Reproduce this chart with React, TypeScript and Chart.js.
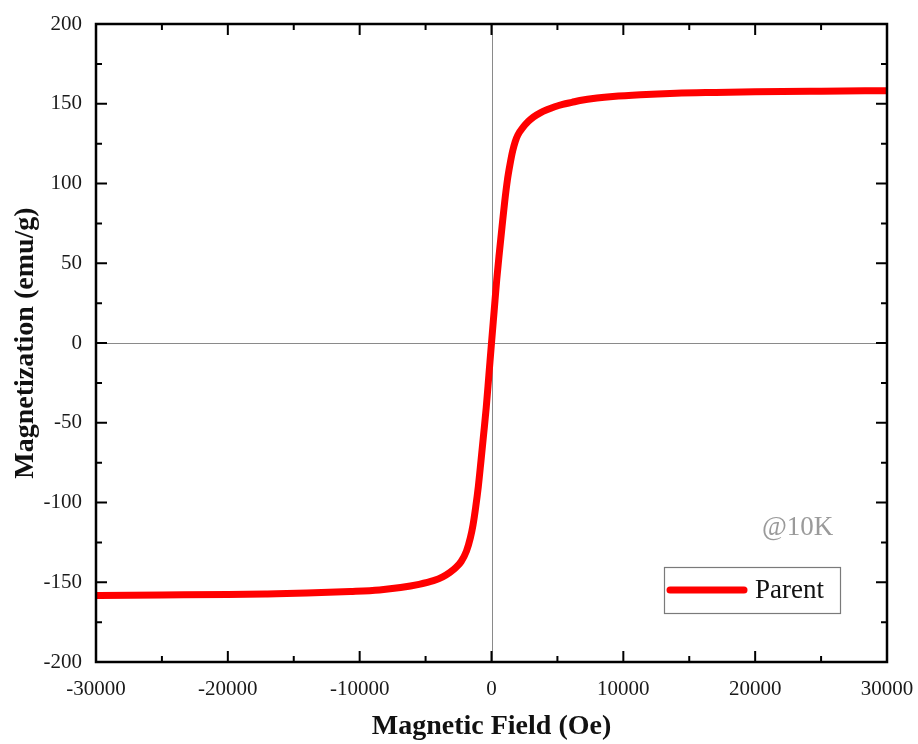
import React, { useEffect, useRef } from "react";
import { Chart, registerables } from "chart.js";

Chart.register(...registerables);

// ---- data ----
const fieldOe = [
  -30000, -25000, -20000, -17000, -14000, -10700, -8500, -6900, -5500, -4400,
  -3700, -3150, -2700, -2300, -1900, -1600, -1400, -1200, -1000, -800, -600,
  -400, -200, 0, 200, 400, 600, 800, 1000, 1200, 1400, 1600, 1800, 2000, 2400,
  2800, 3200, 3700, 4200, 4800, 5400, 6100, 6700, 8000, 9200, 11300, 14000,
  17000, 20000, 25000, 30000,
];
const magnetization = [
  -158.3, -158.0, -157.7, -157.3, -156.8, -155.8, -154.8, -153.3, -151.3, -149.0,
  -146.6, -143.8, -140.8, -137.0, -130.5, -122.0, -114.0, -103.0, -90.0, -74.0, -57.5,
  -40.5, -20.3, 0, 20.0, 40.0, 57.0, 73.0, 88.5, 101.8, 111.8, 120.2, 126.3, 130.4,
  135.3, 139.0, 141.8, 144.3, 146.2, 148.1, 149.6, 150.9, 152.0, 153.6, 154.6, 155.7,
  156.6, 157.1, 157.5, 157.9, 158.2,
];
const seriesLabel = "Parent";
const noteText = "@10K";
const xTitle = "Magnetic Field (Oe)";
const yTitle = "Magnetization (emu/g)";
const xMin = -30000;
const xMax = 30000;
const xMajorStep = 10000;
const xMinorStep = 5000;
const yMin = -200;
const yMax = 200;
const yMajorStep = 50;
const yMinorStep = 25;

const SERIF = "'Liberation Serif', 'Times New Roman', serif";
const LINE_RED = "#ff0000";

const framePlugin = {
  id: "originFrame",
  beforeDatasetsDraw(chart: any) {
    const { ctx, chartArea: a, scales } = chart;
    const x0 = scales.x.getPixelForValue(0);
    const y0 = scales.y.getPixelForValue(0);
    ctx.save();
    ctx.strokeStyle = "#8a8a8a";
    ctx.lineWidth = 1;
    ctx.beginPath();
    ctx.moveTo(Math.round(x0) + 0.5, a.top);
    ctx.lineTo(Math.round(x0) + 0.5, a.bottom);
    ctx.moveTo(a.left, Math.round(y0) + 0.5);
    ctx.lineTo(a.right, Math.round(y0) + 0.5);
    ctx.stroke();
    ctx.restore();
  },
  afterDraw(chart: any) {
    const { ctx, chartArea: a, scales } = chart;
    ctx.save();
    // frame
    ctx.strokeStyle = "#000";
    ctx.lineWidth = 2.5;
    ctx.strokeRect(a.left, a.top, a.right - a.left, a.bottom - a.top);
    // ticks (inward, all four sides)
    ctx.lineWidth = 2;
    ctx.beginPath();
    for (let v = xMin; v <= xMax; v += xMinorStep) {
      const px = scales.x.getPixelForValue(v);
      const major = v % xMajorStep === 0;
      const len = major ? 11 : 6;
      ctx.moveTo(px, a.bottom);
      ctx.lineTo(px, a.bottom - len);
      ctx.moveTo(px, a.top);
      ctx.lineTo(px, a.top + len);
    }
    for (let v = yMin; v <= yMax; v += yMinorStep) {
      const py = scales.y.getPixelForValue(v);
      const major = v % yMajorStep === 0;
      const len = major ? 11 : 6;
      ctx.moveTo(a.left, py);
      ctx.lineTo(a.left + len, py);
      ctx.moveTo(a.right, py);
      ctx.lineTo(a.right - len, py);
    }
    ctx.stroke();

    // note
    ctx.fillStyle = "#9a9a9a";
    ctx.font = `27px ${SERIF}`;
    ctx.textAlign = "left";
    ctx.textBaseline = "alphabetic";
    ctx.fillText(noteText, a.right - 125, a.bottom - 127);

    // legend box
    const bx = a.right - 223;
    const by = a.bottom - 95;
    const bw = 176;
    const bh = 46;
    ctx.fillStyle = "#fff";
    ctx.fillRect(bx, by, bw, bh);
    ctx.strokeStyle = "#7a7a7a";
    ctx.lineWidth = 1.2;
    ctx.strokeRect(bx + 0.5, by + 0.5, bw, bh);
    ctx.strokeStyle = LINE_RED;
    ctx.lineWidth = 7;
    ctx.lineCap = "round";
    ctx.beginPath();
    ctx.moveTo(bx + 6, by + 23);
    ctx.lineTo(bx + 80, by + 23);
    ctx.stroke();
    ctx.fillStyle = "#111";
    ctx.font = `27px ${SERIF}`;
    ctx.textBaseline = "middle";
    ctx.fillText(seriesLabel, bx + 91, by + 24);
    ctx.restore();
  },
};

export default function App() {
  const canvasRef = useRef<HTMLCanvasElement | null>(null);

  useEffect(() => {
    const canvas = canvasRef.current;
    if (!canvas) return;
    const points = fieldOe.map((x, i) => ({ x, y: magnetization[i] }));
    const tickFont = { family: SERIF, size: 21 };
    const chart = new Chart(canvas, {
      type: "scatter",
      data: {
        datasets: [
          {
            label: seriesLabel,
            data: points,
            showLine: true,
            borderColor: LINE_RED,
            backgroundColor: LINE_RED,
            borderWidth: 7,
            pointRadius: 0,
            cubicInterpolationMode: "monotone",
            borderCapStyle: "round",
            borderJoinStyle: "round",
          } as any,
        ],
      },
      options: {
        animation: false,
        responsive: true,
        maintainAspectRatio: false,
        devicePixelRatio: 1,
        layout: { padding: { left: 0, top: 24, right: 31, bottom: 0 } },
        plugins: {
          legend: { display: false },
          tooltip: { enabled: false },
        },
        scales: {
          x: {
            type: "linear",
            min: xMin,
            max: xMax,
            grid: { display: false, drawTicks: false },
            border: { display: false },
            ticks: {
              stepSize: xMajorStep,
              font: tickFont,
              color: "#1a1a1a",
              padding: 15,
              maxRotation: 0,
              autoSkip: false,
              callback: (v: any) => String(v),
            },
            title: {
              display: true,
              text: xTitle,
              color: "#111",
              font: { family: SERIF, size: 28, weight: "bold" },
              padding: { top: 0, bottom: 0 },
            },
            afterFit(scale: any) {
              scale.height = 82;
              scale.paddingLeft = 0;
              scale.paddingRight = 0;
            },
          },
          y: {
            type: "linear",
            min: yMin,
            max: yMax,
            grid: { display: false, drawTicks: false },
            border: { display: false },
            ticks: {
              stepSize: yMajorStep,
              font: tickFont,
              color: "#1a1a1a",
              padding: 14,
              autoSkip: false,
            },
            title: {
              display: true,
              text: yTitle,
              color: "#111",
              font: { family: SERIF, size: 28, weight: "bold" },
              padding: { top: 9, bottom: 0 },
            },
            afterFit(scale: any) {
              scale.width = 96;
              scale.paddingTop = 0;
              scale.paddingBottom = 0;
            },
          },
        },
      } as any,
      plugins: [framePlugin],
    });
    return () => chart.destroy();
  }, []);

  return (
    <div
      style={{
        position: "fixed",
        left: 0,
        top: 0,
        width: 918,
        height: 744,
        background: "#fff",
      }}
    >
      <canvas ref={canvasRef} />
    </div>
  );
}
